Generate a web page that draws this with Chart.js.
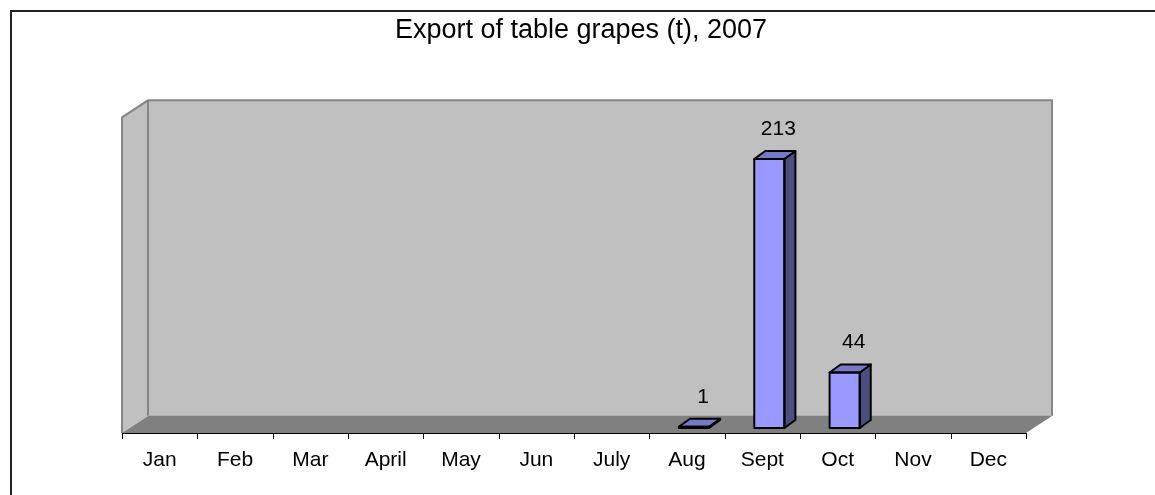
<!DOCTYPE html>
<html>
<head>
<meta charset="utf-8">
<script src="https://cdn.jsdelivr.net/npm/chart.js@4.4.1/dist/chart.umd.min.js"></script>
<style>
  html, body { margin: 0; padding: 0; background: #ffffff; }
  canvas { display: block; }
</style>
</head>
<body>
<canvas id="c" width="1155" height="495"></canvas>
<script>
// ---- data ----
const months = ['Jan','Feb','Mar','April','May','Jun','July','Aug','Sept','Oct','Nov','Dec'];
const exportTonnes = [null, null, null, null, null, null, null, 1, 213, 44, null, null];
const titleText = 'Export of table grapes (t), 2007';
const valueMax = 250;

// ---- style ----
const FONT = '"Liberation Sans", Arial, Helvetica, sans-serif';
const geo = { front: { x: -7, y: 5 }, depth: { x: 26, y: -17 }, bar: { x: 11, y: -8 } };

const frame3d = {
  id: 'frame3d',
  beforeDatasetsDraw(chart) {
    const { ctx, chartArea: a } = chart;
    const fL = a.left + geo.front.x, fR = a.right + geo.front.x;
    const fT = a.top + geo.front.y, fB = a.bottom + geo.front.y;
    const bL = fL + geo.depth.x, bR = fR + geo.depth.x;
    const bT = fT + geo.depth.y, bB = fB + geo.depth.y;
    ctx.save();
    // back wall
    ctx.fillStyle = '#C0C0C0';
    ctx.fillRect(bL, bT, bR - bL, bB - bT);
    // left wall
    ctx.beginPath();
    ctx.moveTo(fL, fT); ctx.lineTo(bL, bT); ctx.lineTo(bL, bB); ctx.lineTo(fL, fB); ctx.closePath();
    ctx.fillStyle = '#C0C0C0';
    ctx.fill();
    // floor
    ctx.beginPath();
    ctx.moveTo(fL, fB); ctx.lineTo(bL, bB); ctx.lineTo(bR, bB); ctx.lineTo(fR, fB); ctx.closePath();
    ctx.fillStyle = '#808080';
    ctx.fill();
    // edges
    ctx.strokeStyle = '#858585';
    ctx.lineWidth = 2;
    ctx.lineJoin = 'miter';
    ctx.beginPath();
    ctx.moveTo(fL, fB); ctx.lineTo(fL, fT); ctx.lineTo(bL, bT); ctx.lineTo(bR, bT); ctx.lineTo(bR, bB);
    ctx.moveTo(bL, bT); ctx.lineTo(bL, bB);
    ctx.stroke();
    ctx.strokeStyle = '#B0B0B0';
    ctx.lineWidth = 1;
    ctx.beginPath();
    ctx.moveTo(bL, bB - 0.5); ctx.lineTo(bR, bB - 0.5);
    ctx.stroke();
    // category axis (front edge) and ticks
    const xs = chart.scales.x;
    const half = (xs.getPixelForValue(1) - xs.getPixelForValue(0)) / 2;
    ctx.strokeStyle = '#000000';
    ctx.lineWidth = 1;
    ctx.beginPath();
    ctx.moveTo(fL, fB + 0.5); ctx.lineTo(fR, fB + 0.5);
    for (let i = 0; i <= months.length; i++) {
      const x = Math.round(xs.getPixelForValue(i) - half + geo.front.x) + 0.5;
      ctx.moveTo(x, fB); ctx.lineTo(x, fB + 6);
    }
    ctx.stroke();
    ctx.restore();
  },
  afterDatasetsDraw(chart) {
    const { ctx } = chart;
    const meta = chart.getDatasetMeta(0);
    ctx.save();
    ctx.lineWidth = 2;
    ctx.lineJoin = 'round';
    ctx.strokeStyle = '#000000';
    meta.data.forEach((el, i) => {
      const v = exportTonnes[i];
      if (v === null || v === undefined) return;
      const p = el.getProps(['x', 'y', 'base', 'width'], true);
      const l = p.x - p.width / 2, r = p.x + p.width / 2, t = p.y, b = p.base;
      const dx = geo.bar.x, dy = geo.bar.y;
      // side
      ctx.beginPath();
      ctx.moveTo(r, t); ctx.lineTo(r + dx, t + dy); ctx.lineTo(r + dx, b + dy); ctx.lineTo(r, b); ctx.closePath();
      ctx.fillStyle = '#4D4D80';
      ctx.fill(); ctx.stroke();
      // top
      ctx.beginPath();
      ctx.moveTo(l, t); ctx.lineTo(l + dx, t + dy); ctx.lineTo(r + dx, t + dy); ctx.lineTo(r, t); ctx.closePath();
      ctx.fillStyle = '#7878C8';
      ctx.fill(); ctx.stroke();
      // front outline
      ctx.strokeRect(l, t, r - l, b - t);
      // data label
      ctx.fillStyle = '#000000';
      ctx.font = '21px ' + FONT;
      ctx.textAlign = 'center';
      ctx.textBaseline = 'middle';
      ctx.fillText(String(v), p.x + 9, t - 30);
    });
    ctx.restore();
  },
  afterDraw(chart) {
    const { ctx } = chart;
    ctx.save();
    ctx.strokeStyle = '#222222';
    ctx.lineWidth = 2;
    ctx.beginPath();
    ctx.moveTo(11, 495); ctx.lineTo(11, 11); ctx.lineTo(1155, 11);
    ctx.stroke();
    ctx.restore();
  }
};

new Chart(document.getElementById('c'), {
  type: 'bar',
  data: {
    labels: months,
    datasets: [{
      label: 'Export (t)',
      data: exportTonnes,
      backgroundColor: '#9999FF',
      borderColor: '#000000',
      borderWidth: 0,
      barPercentage: 0.8,
      categoryPercentage: 0.5
    }]
  },
  options: {
    responsive: false,
    animation: false,
    devicePixelRatio: 1,
    layout: { padding: { left: 129, right: 122, top: 0, bottom: 0 } },
    plugins: {
      legend: { display: false },
      tooltip: { enabled: false },
      title: {
        display: true,
        text: titleText,
        color: '#000000',
        font: { family: FONT, size: 27, weight: 'normal', lineHeight: 1.2 },
        padding: { top: 14.8, bottom: 65.1 }
      }
    },
    scales: {
      x: {
        grid: { display: false, drawTicks: false },
        border: { display: false },
        ticks: {
          color: '#000000',
          font: { family: FONT, size: 21 },
          padding: 20,
          labelOffset: -7,
          maxRotation: 0,
          autoSkip: false
        },
        afterFit(scale) { scale.height = 67; }
      },
      y: {
        display: false,
        min: 0,
        max: valueMax
      }
    }
  },
  plugins: [frame3d]
});
</script>
</body>
</html>
